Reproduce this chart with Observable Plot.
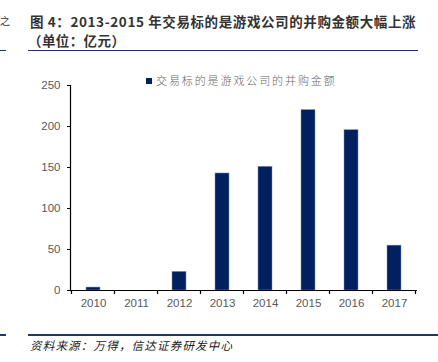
<!DOCTYPE html>
<html>
<head>
<meta charset="utf-8">
<script src="https://cdn.jsdelivr.net/npm/d3@7"></script>
<script src="https://cdn.jsdelivr.net/npm/@observablehq/plot@0.6"></script>
<style>
  body { margin: 0; background: #fff; }
  #wrap { position: relative; width: 438px; height: 362px; overflow: hidden; font-family: "Noto Sans CJK SC", sans-serif; }
  #wrap svg { position: absolute; left: 0; top: 0; }
  .abs { position: absolute; white-space: nowrap; }
  #title { left: 30px; top: 11px; font-size: 13.5px; font-weight: bold; color: #333; line-height: 20px; letter-spacing: 0.6px; }
  #title2 { left: 28px; top: 30px; font-size: 13.5px; font-weight: bold; color: #333; line-height: 20px; letter-spacing: 0.4px; }
  .rule { position: absolute; height: 1.5px; background: #1f3864; }
  #source { left: 30px; top: 337px; font-size: 11.5px; font-style: italic; color: #222; letter-spacing: 1.2px; line-height: 16px; }
  #legend { left: 146px; top: 71px; font-size: 11px; color: #666; letter-spacing: 1.9px; line-height: 18px; font-weight: 300; }
  #legend span.sw { display: inline-block; width: 6px; height: 6px; background: #002060; margin-right: 4px; vertical-align: 1px; }
  #frag { left: 0px; top: 13px; font-size: 10px; color: #333; }
</style>
</head>
<body>
<div id="wrap">
  <div class="abs" id="frag">之</div>
  <div class="abs" id="title">图 4：2013-2015 年交易标的是游戏公司的并购金额大幅上涨</div>
  <div class="abs" id="title2">（单位：亿元）</div>
  <div class="rule" style="left:0;width:6px;top:49.5px"></div>
  <div class="rule" style="left:28px;width:390px;top:49.5px"></div>
  <div class="rule" style="left:0;width:6px;top:334px"></div>
  <div class="rule" style="left:28px;width:410px;top:334px"></div>
  <div class="abs" id="source">资料来源：万得，信达证券研发中心</div>
</div>
<script>
const years = ["2010","2011","2012","2013","2014","2015","2016","2017"];
const values = [3.6, 0, 22.7, 142.7, 150.8, 220, 195.5, 54.7];
const yTicks = [0, 50, 100, 150, 200, 250];
const seriesName = "交易标的是游戏公司的并购金额";

const data = years.map((y, i) => ({year: y, value: values[i]}));

const chart = Plot.plot({
  width: 438,
  height: 362,
  marginTop: 85,
  marginBottom: 72,
  marginLeft: 70,
  marginRight: 21,
  style: {fontFamily: "Arial, 'Liberation Sans', sans-serif", fontSize: "11.5px", background: "transparent", overflow: "visible"},
  x: {domain: years, paddingInner: 0.68, paddingOuter: 0.34, label: null},
  y: {domain: [0, 250], label: null},
  marks: [
    Plot.barY(data, {x: "year", y: "value", fill: "#002060", stroke: "#8090b0", strokeWidth: 0.5}),
    Plot.axisY({ticks: yTicks, tickSize: 3, tickPadding: 7, color: "#595959", stroke: "#000", label: null}),
    Plot.axisX({tickSize: 0, tickPadding: 8, color: "#595959", label: null}),
    Plot.frame({anchor: "left", stroke: "#000", strokeWidth: 1.2}),
    Plot.ruleY([0], {stroke: "#000", strokeWidth: 1.2})
  ]
});

// category boundary ticks on the x axis, positioned from Plot's band scale
const xs = chart.scale("x");
const ys = chart.scale("y");
const y0 = ys.apply(0);
const off = (xs.step - xs.bandwidth) / 2;
const bounds = years.map(v => xs.apply(v) - off).concat([xs.apply(years[years.length - 1]) + xs.bandwidth + off]);
d3.select(chart).append("g")
  .selectAll("line").data(bounds).join("line")
  .attr("x1", d => d).attr("x2", d => d)
  .attr("y1", y0).attr("y2", y0 + 4)
  .attr("stroke", "#000").attr("stroke-width", 1.2);

const wrap = document.getElementById("wrap");
wrap.insertBefore(chart, wrap.firstChild);

const lg = document.createElement("div");
lg.className = "abs";
lg.id = "legend";
lg.innerHTML = '<span class="sw"></span>' + seriesName;
wrap.appendChild(lg);
</script>
</body>
</html>
